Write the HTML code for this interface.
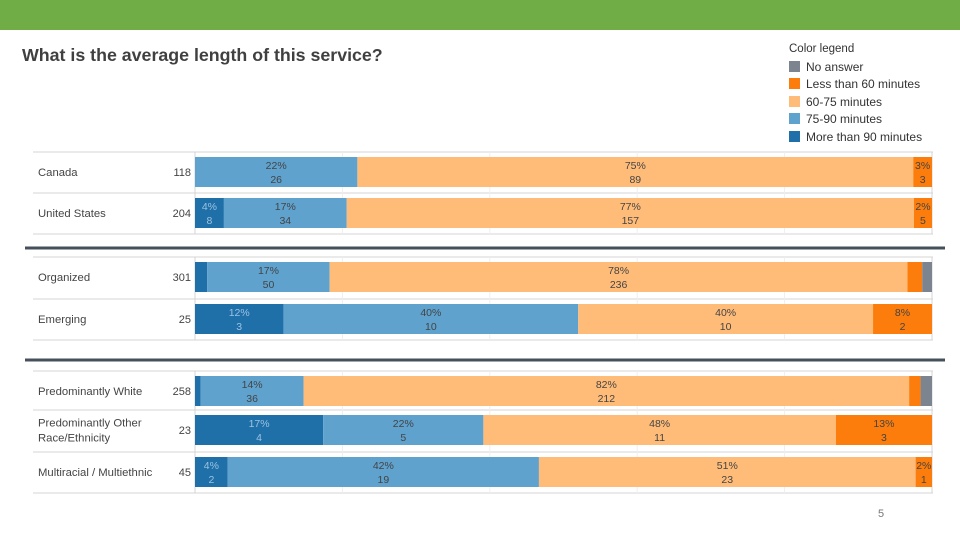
<!DOCTYPE html>
<html><head><meta charset="utf-8"><style>
body{margin:0;width:960px;height:540px;background:#fff;overflow:hidden;font-family:"Liberation Sans",sans-serif;position:relative}
.abs{position:absolute}
</style></head><body>
<div class="abs" style="left:0;top:0;width:960px;height:30px;background:#70ad47"></div>
<div class="abs" style="left:22px;top:45px;font-size:17.8px;font-weight:bold;color:#404040">What is the average length of this service?</div>
<div class="abs" style="left:789px;top:41px;font-size:12px;color:#333;line-height:17.5px">
<div style="font-size:11.5px">Color legend</div>
<div id="leg"></div>
</div>
<div class="abs" style="left:878px;top:508px;font-size:11px;color:#777">5</div>
<svg id="chart" class="abs" style="left:0;top:0" width="960" height="540"></svg>
<script>
const categories=["Canada","United States","Organized","Emerging","Predominantly White","Predominantly Other|Race/Ethnicity","Multiracial / Multiethnic"];
const totals=[118,204,301,25,258,23,45];
const seriesNames=["More than 90 minutes","75-90 minutes","60-75 minutes","Less than 60 minutes","No answer"];
const more90=[0,8,5,3,2,4,2];
const m75to90=[26,34,50,10,36,5,19];
const m60to75=[89,157,236,10,212,11,23];
const less60=[3,5,6,2,4,3,1];
const noAnswer=[0,0,4,0,4,0,0];
const series=[more90,m75to90,m60to75,less60,noAnswer];
const colors=["#1f6fa9","#5fa2ce","#ffbc79","#fc7d0b","#7b848f"];
const rowTops=[157,198,262,304,376,415,457];
const rowH=30;
const X0=195,W=737;
const xs=f=>X0+f*W;
const NS="http://www.w3.org/2000/svg";
const svg=document.getElementById('chart');
function mk(t,a,p){const e=document.createElementNS(NS,t);for(const k in a)e.setAttribute(k,a[k]);(p||svg).appendChild(e);return e;}
const leg=document.getElementById('leg');
[4,3,2,1,0].forEach(i=>{const d=document.createElement('div');


d.innerHTML='<span style="display:inline-block;width:11px;height:11px;background:'+colors[i]+';vertical-align:-1px;margin-right:6px"></span>'+seriesNames[i];leg.appendChild(d);});
const seps=[[152,193,234],[257,299,340],[371,410,452,493]];
seps.flat().forEach(y=>{const l=mk('line',{x1:33,x2:933,y1:y,y2:y,stroke:'#d4d4d4','stroke-width':1});
});
[[152,234],[257,340],[371,493]].forEach(([a,b])=>{[0,0.2,0.4,0.6,0.8,1].forEach(f=>{const g=mk('line',{x1:xs(f),x2:xs(f),y1:a,y2:b,stroke:f==0||f==1?'#d4d4d4':'#efefef','stroke-width':1});
});});
[248,360].forEach(y=>{const l=mk('rect',{x:25,y:y-1.5,width:920,height:3,fill:'#46505a'});
});
categories.forEach((c,r)=>{
  const y=rowTops[r],cy=y+rowH/2;
  const lines=c.split('|');
  lines.forEach((t,k)=>{const tx=mk('text',{x:38,y:cy+4+(k-(lines.length-1)/2)*15,'font-size':11.3,fill:'#444','font-family':'Liberation Sans'});tx.textContent=t;
  });
  const n=mk('text',{x:191,y:cy+4,'font-size':11,fill:'#444','text-anchor':'end','font-family':'Liberation Sans'});n.textContent=totals[r];
  
  let cum=0;
  series.forEach((s,i)=>{const v=s[r];if(!v)return;
    const x1=xs(cum/totals[r]),x2=xs((cum+v)/totals[r]);cum+=v;
    const b=mk('rect',{x:x1,y:y,width:x2-x1,height:rowH,fill:colors[i]});
    
    if(x2-x1>16){const mx=(x1+x2)/2,tc=i==0?'#9cc3e0':'#444';
      const p=mk('text',{x:mx,y:y+12,'font-size':10.5,fill:tc,'text-anchor':'middle','font-family':'Liberation Sans'});p.textContent=Math.round(v/totals[r]*100)+'%';
      
      const q=mk('text',{x:mx,y:y+26,'font-size':10.5,fill:tc,'text-anchor':'middle','font-family':'Liberation Sans'});q.textContent=v;
      }
  });
});
</script>
</body></html>
